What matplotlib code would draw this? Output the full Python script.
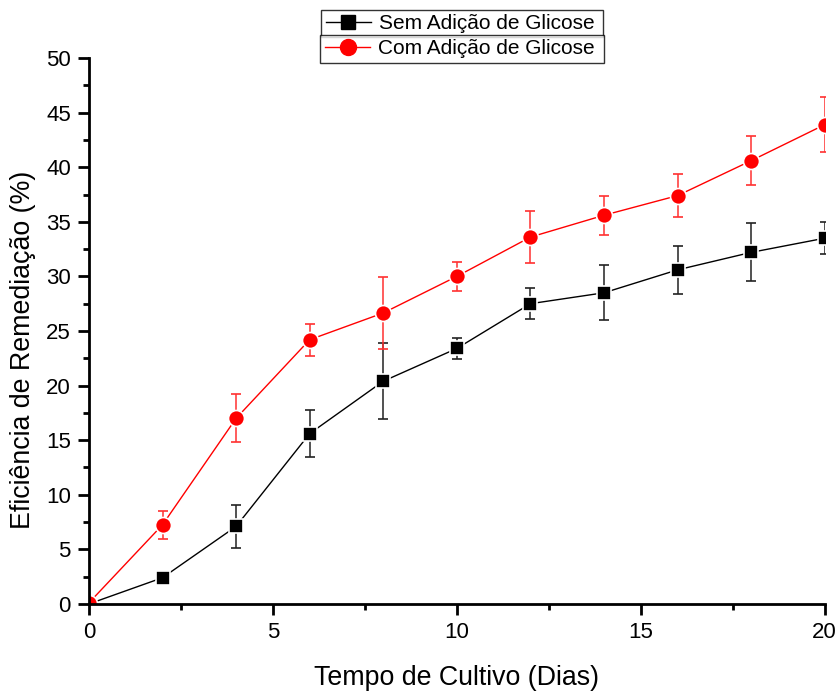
import numpy as np
import matplotlib.pyplot as plt
from matplotlib.ticker import MultipleLocator

plt.rcParams['font.family'] = ['Liberation Sans', 'DejaVu Sans']

dias = [0, 2, 4, 6, 8, 10, 12, 14, 16, 18, 20]
sem_glicose = [0, 2.4, 7.1, 15.6, 20.4, 23.4, 27.5, 28.5, 30.6, 32.2, 33.5]
sem_erro = [0, 0, 2.0, 2.15, 3.5, 1.0, 1.4, 2.5, 2.2, 2.65, 1.45]
com_glicose = [0.1, 7.25, 17.0, 24.2, 26.65, 30.0, 33.6, 35.6, 37.4, 40.6, 43.9]
com_erro = [0, 1.3, 2.2, 1.45, 3.3, 1.35, 2.35, 1.8, 1.95, 2.25, 2.5]

fig = plt.figure(figsize=(8.39, 6.91), dpi=100)
ax = fig.add_axes([0.106, 0.126, 0.877, 0.79])

sem = ax.errorbar(dias, sem_glicose, yerr=sem_erro, color='black', lw=1,
                  marker='s', ms=10, mec='white', mew=1.2, elinewidth=1.1,
                  capsize=3.8, capthick=1.1, ecolor='#222222')
com = ax.errorbar(dias, com_glicose, yerr=com_erro, color='red', lw=1,
                  marker='o', ms=11.5, mec='white', mew=1.2, elinewidth=1.1,
                  capsize=3.8, capthick=1.1, ecolor='#ff3030')

ax.set_xlim(0, 20)
ax.set_ylim(0, 50)
ax.xaxis.set_major_locator(MultipleLocator(5))
ax.xaxis.set_minor_locator(MultipleLocator(2.5))
ax.yaxis.set_major_locator(MultipleLocator(5))
ax.yaxis.set_minor_locator(MultipleLocator(2.5))

for side in ['top', 'right']:
    ax.spines[side].set_visible(False)
for side in ['left', 'bottom']:
    ax.spines[side].set_linewidth(2)

ax.tick_params(which='major', direction='out', length=8, width=2,
               labelsize=16, pad=5)
ax.tick_params(which='minor', direction='out', length=4.5, width=2)

ax.set_xlabel('Tempo de Cultivo (Dias)', fontsize=19.3, labelpad=16)
ax.set_ylabel('Eficiência de Remediação (%)', fontsize=19.3, labelpad=7)
ax.yaxis.label.set_y(0.465)

# two stacked legend boxes above the plot
h_sem = plt.Line2D([], [], color='black', lw=1, marker='s', ms=10)
h_com = plt.Line2D([], [], color='red', lw=1, marker='o', ms=11.5)
leg_style = dict(loc='upper left', mode='expand', fontsize=15, frameon=True,
                 fancybox=False, shadow=False, handlelength=2.2,
                 handletextpad=0.35, borderpad=0.2, borderaxespad=0,
                 edgecolor='black')
leg1 = fig.legend([h_sem], ['Sem Adição de Glicose'],
                  bbox_to_anchor=(0.383, 0.9855, 0.336, 0.0), **leg_style)
leg2 = fig.legend([h_com], ['Com Adição de Glicose'],
                  bbox_to_anchor=(0.382, 0.949, 0.338, 0.0), **leg_style)
for leg in (leg1, leg2):
    leg.get_frame().set_linewidth(1)

fig.savefig('out.png', dpi=100)
